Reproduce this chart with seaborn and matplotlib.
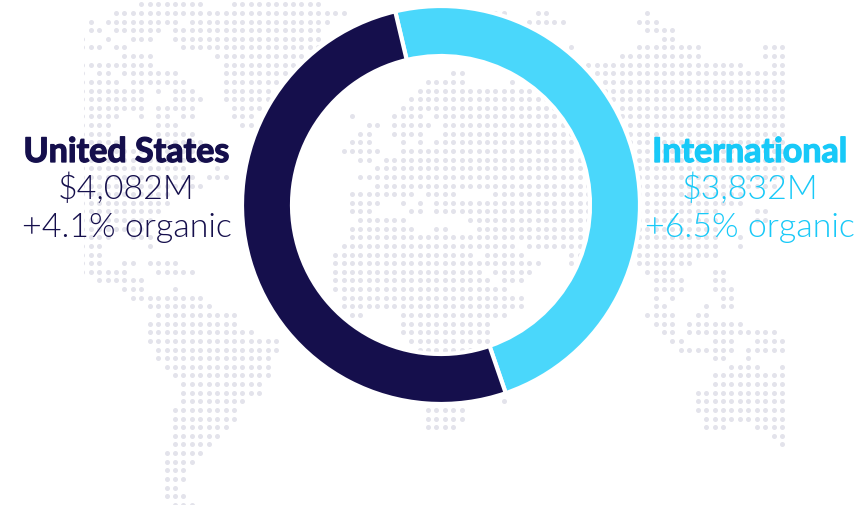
import matplotlib
matplotlib.use("Agg")
import matplotlib.pyplot as plt
import matplotlib.patheffects as pe
from matplotlib.patches import Rectangle
import pandas as pd
import seaborn as sns

# Revenue split
regions = ["International", "United States"]
revenue = [3832, 4082]
organic = [6.5, 4.1]
region_colors = ["#4AD7FB", "#150F4C"]
label_colors = ["#18C9F8", "#150F4C"]

# Dot-matrix world map: for each grid row, inclusive runs of filled columns
map_rows = [
    [(7, 14), (18, 28)],
    [(4, 31), (49, 50), (54, 55), (67, 67)],
    [(1, 1), (3, 11), (13, 29), (53, 57), (66, 68)],
    [(1, 2), (4, 9), (11, 28), (67, 70)],
    [(0, 0), (3, 3), (6, 8), (11, 28), (69, 70)],
    [(0, 2), (4, 5), (12, 28), (58, 58), (66, 73), (81, 83)],
    [(5, 8), (16, 26), (64, 73), (81, 83)],
    [(0, 8), (17, 25), (60, 78), (82, 83)],
    [(0, 0), (2, 3), (5, 11), (17, 24), (44, 45), (61, 83)],
    [(0, 4), (6, 12), (17, 23), (41, 45), (51, 51), (62, 83)],
    [(0, 7), (9, 9), (11, 13), (17, 22), (40, 83)],
    [(0, 7), (11, 14), (17, 22), (39, 83)],
    [(0, 7), (9, 13), (18, 21), (38, 83)],
    [(0, 4), (7, 7), (9, 10), (12, 13), (18, 20), (32, 32), (37, 40), (42, 83)],
    [(0, 3), (9, 11), (19, 20), (34, 35), (37, 41), (43, 83)],
    [(0, 3), (9, 13), (33, 34), (37, 40), (43, 83)],
    [(0, 4), (9, 14), (32, 34), (38, 38), (40, 40), (42, 83)],
    [(0, 14), (31, 35), (38, 83)],
    [(0, 14), (33, 34), (36, 83)],
    [(0, 12), (16, 16), (35, 83)],
    [(0, 13), (15, 17), (33, 83)],
    [(0, 14), (35, 82)],
    [(0, 10), (32, 39), (41, 44), (49, 78)],
    [(0, 10), (32, 35), (38, 38), (40, 40), (42, 78)],
    [(0, 9), (32, 34), (39, 40), (42, 75), (80, 81)],
    [(0, 8), (33, 38), (46, 75), (80, 81)],
    [(0, 7), (32, 39), (42, 43), (47, 75)],
    [(0, 3), (6, 8), (32, 75), (78, 78)],
    [(0, 2), (8, 8), (31, 51), (53, 75), (78, 78)],
    [(0, 2), (30, 46), (48, 52), (58, 75)],
    [(0, 2), (5, 6), (8, 11), (30, 54), (58, 72)],
    [(0, 5), (9, 13), (30, 47), (49, 53), (67, 70), (75, 76)],
    [(2, 7), (30, 48), (50, 52), (68, 71), (75, 76)],
    [(5, 7), (11, 11), (30, 50), (68, 71), (75, 77)],
    [(6, 14), (31, 52), (68, 68), (70, 70), (76, 77)],
    [(8, 15), (31, 52), (68, 69), (74, 74), (76, 77)],
    [(9, 18), (32, 33), (38, 50), (67, 70), (73, 74)],
    [(8, 18), (38, 48), (68, 70), (72, 78)],
    [(8, 20), (38, 48), (69, 70), (72, 82)],
    [(8, 23), (39, 48), (70, 71), (75, 77), (80, 83)],
    [(9, 23), (40, 46), (71, 77), (79, 83)],
    [(9, 22), (75, 76), (79, 79)],
    [(10, 22), (77, 80), (83, 83)],
    [(11, 22), (75, 83)],
    [(12, 21), (75, 83)],
    [(12, 21), (73, 83)],
    [(12, 19), (50, 50), (73, 83)],
    [(11, 18), (41, 45), (73, 83)],
    [(11, 18), (41, 45), (74, 83)],
    [(11, 17), (41, 44), (74, 76), (80, 83)],
    [(11, 16), (82, 83)],
    [(11, 15), (83, 83)],
    [(10, 14)],
    [(10, 13)],
    [(10, 12)],
    [(10, 12)],
    [(10, 11)],
    [(10, 12)],
    [(11, 13)],
]

# Pixel layout of the dot grid and the ring
GRID_X0, GRID_DX = 82.3, 8.43
GRID_Y0, GRID_DY = 4.3, 8.63
CENTER_X, CENTER_Y = 441.0, 205.0
OUTER_R, INNER_R = 199.0, 149.0
W, H = 866, 505

sns.set_theme(style="white")
plt.rcParams["font.family"] = ["Lato", "DejaVu Sans"]

dots = pd.DataFrame(
    [
        (GRID_X0 + GRID_DX * col, GRID_Y0 + GRID_DY * row)
        for row, runs in enumerate(map_rows)
        for start, stop in runs
        for col in range(start, stop + 1)
    ],
    columns=["x", "y"],
)

fig = plt.figure(figsize=(W / 100, H / 100), dpi=100, facecolor="white")

# Background layer in pixel units
bg = fig.add_axes([0, 0, 1, 1])
bg.set_xlim(0, W)
bg.set_ylim(H, 0)
bg.axis("off")
sns.scatterplot(data=dots, x="x", y="y", ax=bg, s=13, color="#E3E3EB",
                linewidth=0, legend=False)
bg.collections[0].set_clip_path(
    Rectangle((84, 0), 699.5, H, transform=bg.transData)
)
bg.set_xlim(0, W)
bg.set_ylim(H, 0)

# Donut ring, turning clockwise from International
pad = OUTER_R + 4
ring_ax = fig.add_axes([
    (CENTER_X - pad) / W,
    1 - (CENTER_Y + pad) / H,
    2 * pad / W,
    2 * pad / H,
])
ring_ax.patch.set_alpha(0)
ring_ax.pie(
    revenue,
    colors=region_colors,
    startangle=103.3,
    counterclock=False,
    radius=OUTER_R / pad,
    wedgeprops=dict(width=(OUTER_R - INNER_R) / pad, edgecolor="white", linewidth=3),
)
ring_ax.set_xlim(-1, 1)
ring_ax.set_ylim(-1, 1)

# Region captions
caption_x = [750, 126.5]
for name, value, growth, color, x in zip(regions, revenue, organic, label_colors, caption_x):
    title = bg.text(x, 162, name, color=color, fontsize=24.5, fontweight="bold",
                    ha="center", va="baseline")
    title.set_path_effects([pe.withStroke(linewidth=0.9, foreground=color)])
    bg.text(x, 199, f"${value:,}M", color=color, fontsize=24.5, fontweight=300,
            ha="center", va="baseline")
    bg.text(x, 237, f"+{growth}% organic", color=color, fontsize=24.5, fontweight=300,
            ha="center", va="baseline")

fig.savefig("out.png", dpi=100)
